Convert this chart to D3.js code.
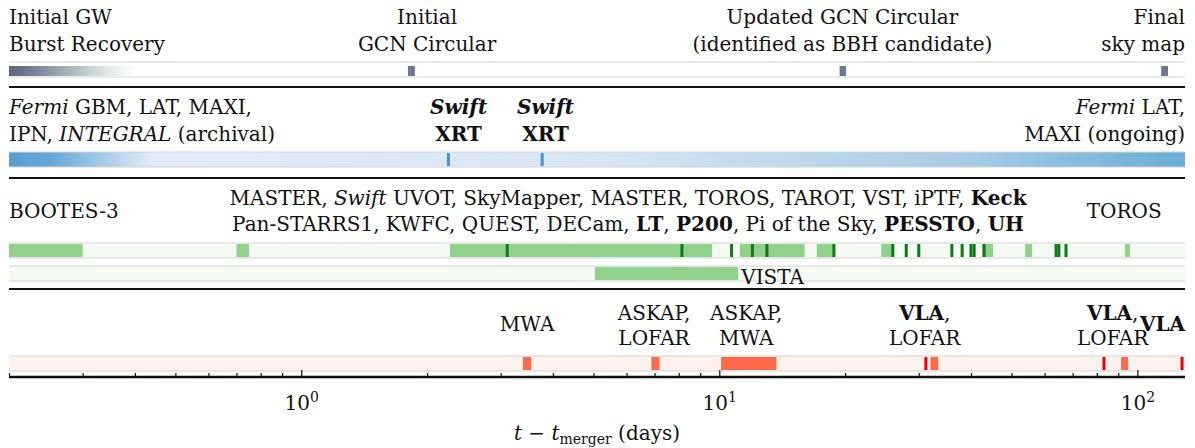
<!DOCTYPE html>
<html>
<head>
<meta charset="utf-8">
<script src="https://cdn.jsdelivr.net/npm/d3@7"></script>
<style>
  body { margin: 0; background: #fff; }
  svg text { font-family: "DejaVu Serif", serif; font-size: 20px; fill: #111; }
</style>
</head>
<body>
<svg id="chart" width="1195" height="448"></svg>
<script>
  // time since merger (days), log axis
  const domainDays = [0.2, 130];
  const majorTicks = [1, 10, 100];
  const minorTicks = [0.2, 0.3, 0.4, 0.5, 0.6, 0.7, 0.8, 0.9, 2, 3, 4, 5, 6, 7, 8, 9, 20, 30, 40, 50, 60, 70, 80, 90];

  // GW alerts
  const gwFade = [0.2, 0.4];
  const gwBlocks = [[1.80, 1.87], [19.4, 20.1], [114, 118.4]];
  const gwLabels = [
    { at: 0.2, anchor: 'start', lines: ['Initial GW', 'Burst Recovery'] },
    { at: 2.0, anchor: 'middle', lines: ['Initial', 'GCN Circular'] },
    { at: 19.7, anchor: 'middle', lines: ['Updated GCN Circular', '(identified as BBH candidate)'] },
    { at: 130, anchor: 'end', lines: ['Final', 'sky map'] }
  ];

  // gamma / X-ray
  const xrayTicks = [2.25, 3.77];
  const xrayLabels = [
    { at: 0.2, anchor: 'start', lines: ['*Fermi* GBM, LAT, MAXI,', 'IPN, *INTEGRAL* (archival)'] },
    { at: 2.38, anchor: 'middle', lines: ['***Swift***', '**XRT**'] },
    { at: 3.84, anchor: 'middle', lines: ['***Swift***', '**XRT**'] },
    { at: 130, anchor: 'end', lines: ['*Fermi* LAT,', 'MAXI (ongoing)'] }
  ];

  // optical / IR
  const opticalBlocks = [[0.2, 0.3], [0.70, 0.75], [2.27, 9.61], [11.2, 16.0], [17.1, 18.9], [24.4, 25.9],
    [42.5, 45.2], [53.9, 56.0], [93.4, 96.0]];
  const opticalTicks = [3.11, 8.14, 10.7, 12.0, 13.0, 18.8, 26.0, 28.0, 30.0, 36.0, 38.1, 40.0, 40.7, 43.0,
    63.9, 64.9, 67.5];
  const vistaBlocks = [[5.04, 11.1]];
  const opticalLabels = [
    { at: 0.2, anchor: 'start', lines: ['BOOTES-3'] },
    { at: 6.05, anchor: 'middle', lines: ['MASTER, *Swift* UVOT, SkyMapper, MASTER, TOROS, TAROT, VST, iPTF, **Keck**',
      'Pan-STARRS1, KWFC, QUEST, DECam, **LT**, **P200**, Pi of the Sky, **PESSTO**, **UH**'] },
    { at: 93, anchor: 'middle', lines: ['TOROS'] }
  ];

  // radio
  const radioBlocks = [[3.39, 3.55], [6.88, 7.20], [10.1, 13.7], [32.0, 33.4], [91.4, 95.0]];
  const radioTicks = [31.2, 83.2, 127.9];
  const radioLabels = [
    { at: 3.47, anchor: 'middle', lines: ['MWA'] },
    { at: 6.98, anchor: 'middle', lines: ['ASKAP,', 'LOFAR'] },
    { at: 11.6, anchor: 'middle', lines: ['ASKAP,', 'MWA'] },
    { at: 31.0, anchor: 'middle', lines: ['**VLA**,', 'LOFAR'] },
    { at: 87.3, anchor: 'middle', lines: ['**VLA**,', 'LOFAR'] },
    { at: 130, anchor: 'end', lines: ['**VLA**'] }
  ];

  const svg = d3.select('#chart');
  const x = d3.scaleLog().domain(domainDays).range([9, 1185]);
  const defs = svg.append('defs');

  // "*it*" / "**bf**" / "***bf-it***" -> tspans
  function rich(sel, str) {
    str.split(/(\*{1,3}[^*]+\*{1,3})/).filter(s => s.length).forEach(s => {
      const m = s.match(/^(\*{1,3})([^*]+)\*{1,3}$/);
      const t = sel.append('tspan').text(m ? m[2] : s);
      if (m) {
        const n = m[1].length;
        if (n !== 2) t.attr('font-style', 'italic');
        if (n >= 2) t.attr('font-weight', 'bold');
      }
    });
  }

  function labels(list, ys, ySingle) {
    list.forEach(d => {
      const ly = d.lines.length === 1 ? [ySingle] : ys;
      d.lines.forEach((line, i) => {
        const t = svg.append('text')
          .attr('x', x(d.at))
          .attr('y', ly[i])
          .attr('text-anchor', d.anchor);
        rich(t, line);
      });
    });
  }

  function band(y0, y1, fill) {
    svg.append('rect').attr('x', x(domainDays[0])).attr('width', x(domainDays[1]) - x(domainDays[0]))
      .attr('y', y0).attr('height', y1 - y0).attr('fill', fill);
    [y0, y1].forEach(y => svg.append('line')
      .attr('x1', x(domainDays[0])).attr('x2', x(domainDays[1]))
      .attr('y1', y).attr('y2', y)
      .attr('stroke', '#d4d4d4').attr('stroke-width', 1.2));
  }

  function blocks(data, y0, y1, color) {
    svg.append('g').selectAll('rect').data(data).join('rect')
      .attr('x', d => x(d[0]))
      .attr('width', d => x(d[1]) - x(d[0]))
      .attr('y', y0).attr('height', y1 - y0)
      .attr('fill', color);
  }

  function ticks(data, y0, y1, color) {
    svg.append('g').selectAll('rect').data(data).join('rect')
      .attr('x', d => x(d) - 1.5)
      .attr('width', 3)
      .attr('y', y0).attr('height', y1 - y0)
      .attr('fill', color);
  }

  function separator(y) {
    svg.append('line').attr('x1', x(domainDays[0])).attr('x2', x(domainDays[1]))
      .attr('y1', y).attr('y2', y).attr('stroke', '#111').attr('stroke-width', 2);
  }

  function gradient(id, stops) {
    const g = defs.append('linearGradient').attr('id', id)
      .attr('gradientUnits', 'userSpaceOnUse')
      .attr('x1', x(domainDays[0])).attr('x2', x(domainDays[1])).attr('y1', 0).attr('y2', 0);
    const span = x(domainDays[1]) - x(domainDays[0]);
    g.selectAll('stop').data(stops).join('stop')
      .attr('offset', d => (x(d[0]) - x(domainDays[0])) / span)
      .attr('stop-color', d => d[1]);
    return `url(#${id})`;
  }

  // ---- GW panel
  labels(gwLabels, [24, 51], 38);
  band(62, 77, '#fff');
  const gwFill = gradient('gwfade', [[gwFade[0], '#5c687f'], [0.215, '#66728a'], [0.29, '#aec2c4'], [0.34, '#dde7e6'], [gwFade[1], '#ffffff']]);
  blocks([gwFade], 66, 76, gwFill);
  blocks(gwBlocks, 66, 76, '#6c7890');
  separator(87);

  // ---- gamma / X-ray panel
  labels(xrayLabels, [114, 141], 128);
  const xFill = gradient('xfade', [[0.2, '#5a9ed1'], [0.25, '#65a6d6'], [0.44, '#e2edf8'], [5.2, '#d7e6f3'], [40, '#a6cbe6'], [130, '#69add6']]);
  band(152, 167, xFill);
  ticks(xrayTicks, 153, 166, '#4a92cc');
  separator(178);

  // ---- optical panel
  labels(opticalLabels, [205, 231], 218);
  band(243, 258, '#f5fbf3');
  blocks(opticalBlocks, 244, 257, '#90d18c');
  ticks(opticalTicks, 244, 257, '#0e7a16');
  band(266, 281, '#f5fbf3');
  blocks(vistaBlocks, 267, 280, '#90d18c');
  svg.append('text').attr('x', x(vistaBlocks[0][1]) + 3).attr('y', 284).text('VISTA');
  separator(289);

  // ---- radio panel
  labels(radioLabels, [320, 345], 331);
  band(356, 371, '#fdf2ee');
  blocks(radioBlocks, 357, 370, '#fb6a4a');
  ticks(radioTicks, 357, 370, '#ee0000');

  // ---- axis
  const axisY = 377;
  svg.append('g').attr('transform', `translate(0,${axisY})`)
    .call(d3.axisBottom(x).tickValues(minorTicks).tickSizeInner(-4).tickSizeOuter(0).tickFormat(''))
    .call(g => g.select('.domain').remove())
    .call(g => g.selectAll('.tick line').attr('stroke', '#111').attr('stroke-width', 1.2));

  const major = svg.append('g').attr('transform', `translate(0,${axisY})`)
    .call(d3.axisBottom(x).tickValues(majorTicks).tickSizeInner(-7).tickSizeOuter(0).tickPadding(14));
  major.select('.domain').remove();
  major.selectAll('.tick line').attr('stroke', '#111').attr('stroke-width', 1.2);
  major.selectAll('.tick text')
    .attr('font-size', null).attr('font-family', null).attr('fill', '#111')
    .attr('dy', null).attr('y', 33)
    .text(null)
    .each(function(d) {
      const t = d3.select(this);
      t.append('tspan').text('10');
      t.append('tspan').attr('dy', -8).attr('font-size', 14).text(Math.round(Math.log10(d)));
    });

  svg.append('line').attr('x1', x(domainDays[0])).attr('x2', x(domainDays[1]))
    .attr('y1', axisY).attr('y2', axisY).attr('stroke', '#111').attr('stroke-width', 2.5);

  const xl = svg.append('text').attr('x', 597).attr('y', 440).attr('text-anchor', 'middle');
  xl.append('tspan').attr('font-style', 'italic').text('t');
  xl.append('tspan').text(' − ');
  xl.append('tspan').attr('font-style', 'italic').text('t');
  xl.append('tspan').attr('font-size', 14).attr('dy', 4).text('merger');
  xl.append('tspan').attr('dy', -4).text(' (days)');
</script>
</body>
</html>
